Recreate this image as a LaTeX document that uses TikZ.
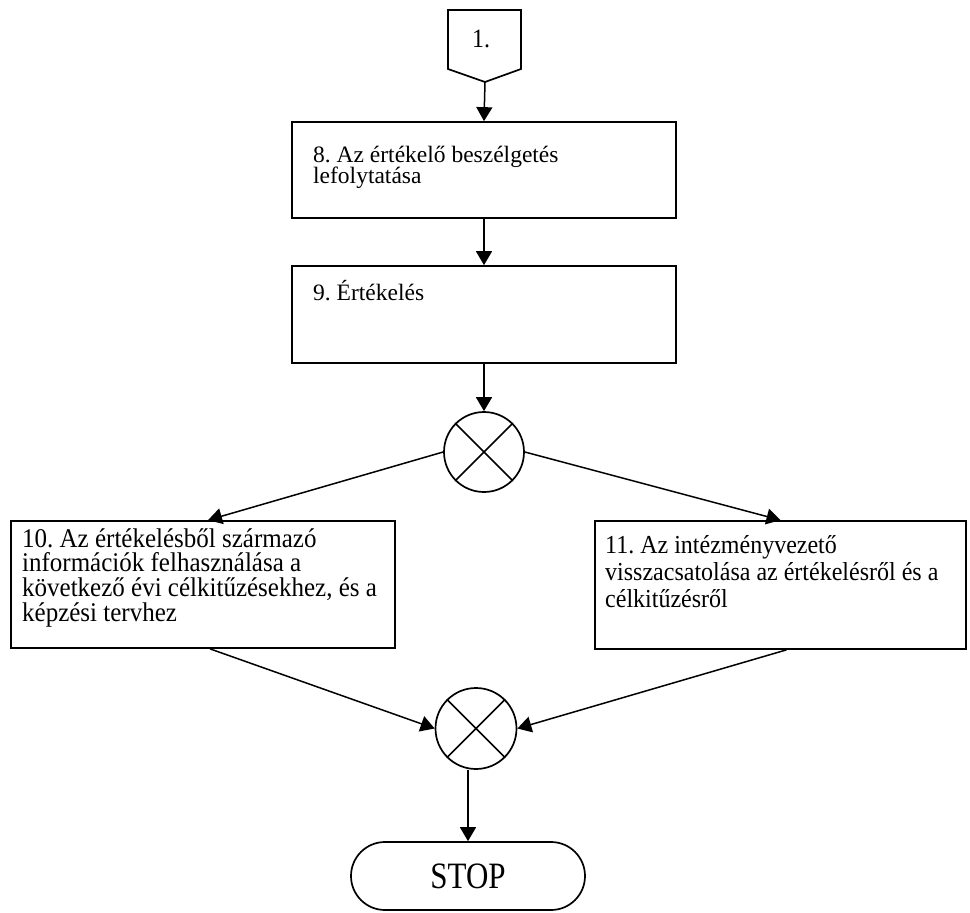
\documentclass[tikz,border=0pt]{standalone}
\usepackage{fontspec}
\setmainfont{Liberation Serif}
\usepackage{graphicx}
\usetikzlibrary{arrows.meta,shapes.misc}
\newcommand{\boxtext}[5]{\scalebox{1}[#1]{\begin{minipage}[t]{#4}\fontsize{#2}{#3}\selectfont\frenchspacing\lineskiplimit=-100pt\raggedright #5\end{minipage}}}
\begin{document}
\begin{tikzpicture}[x=1pt,y=-1pt,
  box/.style={draw, rectangle, line width=1.7pt, inner sep=0pt},
  xcirc/.style={draw, circle, line width=1.7pt, inner sep=0pt, minimum size=80pt},
  conn/.style={-{Triangle[length=14pt,width=16pt]}, line width=1.5pt},
  plainline/.style={line width=1.7pt},
  txt/.style={anchor=base west, inner sep=0pt}
]
\useasboundingbox (0,0) rectangle (970,913);
% off-page connector
\draw[plainline, line join=miter] (448,10) -- (521,10) -- (521,69) -- (485,82) -- (448,69) -- cycle;
\coordinate (ptip) at (485,82);
\node[txt] (c1) at (472,47) {\scalebox{1}[1.1]{\fontsize{24}{24}\selectfont 1.}};
% boxes
\node[box, minimum width=384pt, minimum height=96pt] (b8) at (484,170) {};
\node[box, minimum width=384pt, minimum height=97pt] (b9) at (484,314.5) {};
\node[xcirc] (x1) at (484,452) {};
\node[box, minimum width=384pt, minimum height=127pt] (b10) at (203,584.5) {};
\node[box, minimum width=371pt, minimum height=128pt] (b11) at (780.5,585) {};
\node[xcirc, minimum size=81pt] (x2) at (476,728.5) {};
\node[draw, rounded rectangle, line width=1.7pt, minimum width=234pt, minimum height=68pt, inner sep=0pt] (stop) at (468,876) {\scalebox{1}[1.2]{\fontsize{31}{31}\selectfont STOP}};
% crosses
\draw[plainline] (x1.north west) -- (x1.south east) (x1.north east) -- (x1.south west);
\draw[plainline] (x2.north west) -- (x2.south east) (x2.north east) -- (x2.south west);
% texts
\node[txt] (t8) at (313,162) {\boxtext{1.0}{23.5}{21.5}{360pt}{8. Az értékelő beszélgetés\\lefolytatása}};
\node[txt] (t9) at (313,300) {\boxtext{1.0}{23.5}{21.5}{360pt}{9. Értékelés}};
\node[txt] (t10) at (22,547) {\boxtext{1.08}{25}{23.1}{375pt}{10. Az értékelésből származó\\információk felhasználása a\\következő évi célkitűzésekhez, és a\\képzési tervhez}};
\node[txt] (t11) at (605,553) {\boxtext{1.08}{24}{25}{360pt}{11. Az intézményvezető\\visszacsatolása az értékelésről és a\\célkitűzésről}};
% connectors
\draw[conn] (ptip) -- (b8.north);
\draw[conn] (b8.south) -- (b9.north);
\draw[conn] (b9.south) -- (x1.north);
\draw[conn] (x1.west) -- ([xshift=5pt]b10.north);
\draw[conn] (x1.east) -- (b11.north);
\draw[conn] ([xshift=7pt]b10.south) -- (x2.west);
\draw[conn] ([xshift=6pt]b11.south) -- (x2.east);
\draw[conn] (x2.south -| stop.north) -- (stop.north);
\end{tikzpicture}
\end{document}
